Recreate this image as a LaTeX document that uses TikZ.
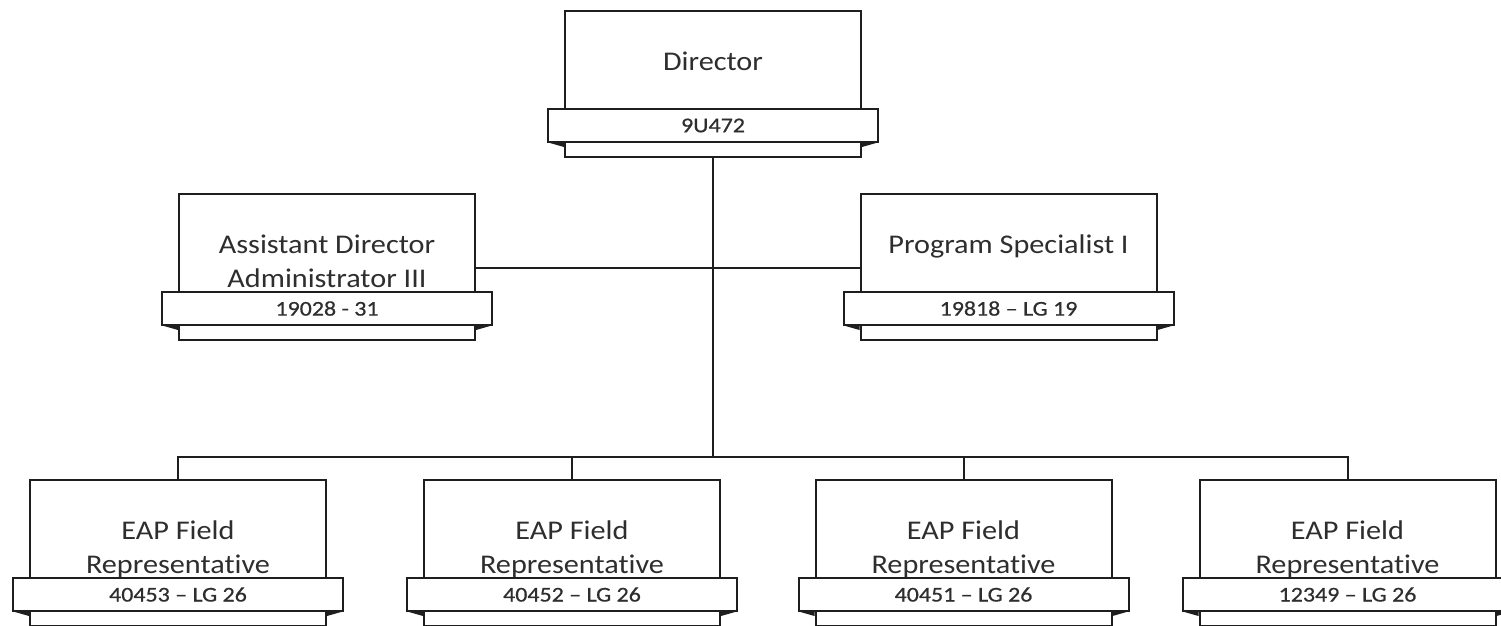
\documentclass[tikz,border=0pt]{standalone}
\usepackage{fontspec}
\setmainfont{Carlito}[FakeStretch=1.12, Ligatures=NoCommon]
\newfontfamily\bandfont{Carlito}[FakeStretch=1.14, FakeBold=0.6, Ligatures=NoCommon]
\definecolor{ink}{HTML}{1E1E1E}
\definecolor{txt}{HTML}{2E2E2E}
\begin{document}
\begin{tikzpicture}[x=1pt,y=-1pt,
  mainbox/.style={draw=ink, line width=2pt, fill=white, minimum width=296pt, minimum height=146pt, inner sep=0pt},
  band/.style={draw=ink, line width=2pt, fill=white, minimum width=330pt, minimum height=33pt, inner sep=0pt, font=\bandfont\fontsize{21}{24}\selectfont, text=txt},
  title/.style={align=center, anchor=north, inner sep=0pt, font=\fontsize{27}{34}\selectfont, text=txt},
  conn/.style={draw=ink, line width=2pt},
  fold/.style={fill=ink}]
\useasboundingbox (0,0) rectangle (1501,625);
\clip (0,0) rectangle (1501,625);
\fill[white] (0,0) rectangle (1501,625);
\coordinate (midy) at (0,268);
\coordinate (busy) at (0,457);
% boxes
\newcommand\orgbox[5]{%
  \node[mainbox] (#1) at (#2,#3+73) {};
  \node[band] (#1b) at (#2,#3+114.5) {#5};
  \fill[fold] ([xshift=3pt]#1b.south west) -- ([xshift=17pt]#1b.south west) -- ([xshift=17pt,yshift=-4pt]#1b.south west) -- cycle;
  \fill[fold] ([xshift=-3pt]#1b.south east) -- ([xshift=-17pt]#1b.south east) -- ([xshift=-17pt,yshift=-4pt]#1b.south east) -- cycle;
  \node[title] (#1t) at (#2,#3+41) {#4};
}
\orgbox{dir}{713}{11}{Director}{9U472}
\orgbox{asst}{327}{194}{Assistant Director\\Administrator III}{19028 - 31}
\orgbox{prog}{1008.5}{194}{Program Specialist I}{19818 – LG 19}
\orgbox{ea}{178}{480}{EAP Field\\Representative}{40453 – LG 26}
\orgbox{eb}{572}{480}{EAP Field\\Representative}{40452 – LG 26}
\orgbox{ec}{963.5}{480}{EAP Field\\Representative}{40451 – LG 26}
\orgbox{ed}{1347.5}{480}{EAP Field\\Representative}{12349 – LG 26}
% connectors
\draw[conn] (dir.south) -- (dir.south |- busy);
\draw[conn] (asst.east |- midy) -- (prog.west |- midy);
\draw[conn] (ea.north) -- (ea.north |- busy) -- (ed.north |- busy) -- (ed.north);
\draw[conn] (eb.north) -- (eb.north |- busy);
\draw[conn] (ec.north) -- (ec.north |- busy);
\end{tikzpicture}
\end{document}
